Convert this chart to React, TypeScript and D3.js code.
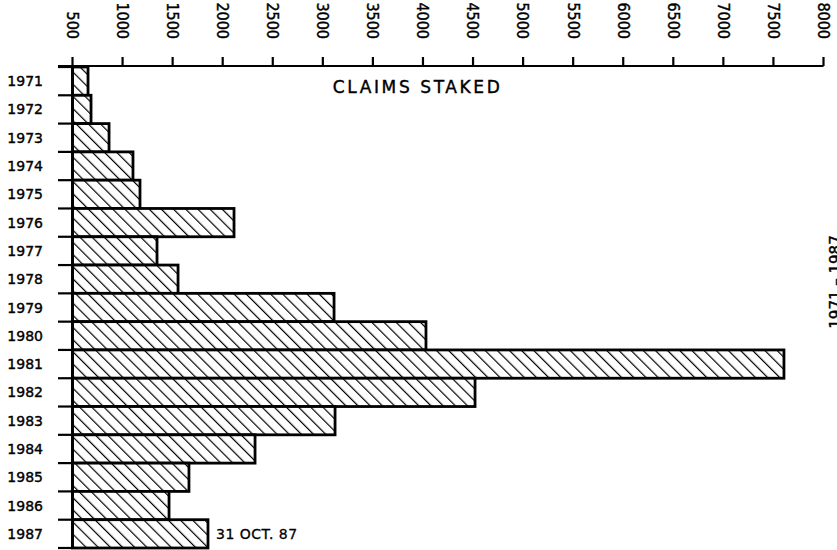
import React from 'react';
import * as d3 from 'd3';

const years = ['1971','1972','1973','1974','1975','1976','1977','1978','1979','1980','1981','1982','1983','1984','1985','1986','1987'];
const claims = [655, 685, 865, 1104, 1174, 2113, 1344, 1554, 3112, 4030, 7605, 4520, 3122, 2323, 1663, 1464, 1853];
const xTicks = [500,1000,1500,2000,2500,3000,3500,4000,4500,5000,5500,6000,6500,7000,7500,8000];
const title = 'CLAIMS STAKED';
const note = '31 OCT. 87';
const sideText = '1971 – 1987';

const W = 837, H = 550;
const FONT = '"DejaVu Sans", sans-serif';
const NARROW = '"Liberation Sans Narrow", "DejaVu Sans Condensed", sans-serif';

export default function App() {
  const x = d3.scaleLinear().domain([500, 8000]).range([72.5, 823.5]);
  const y = d3.scaleBand().domain(years).range([67, 548]).padding(0);
  const axisY = 66;
  const boundaries = years.map(yr => y(yr)!).concat([y.range()[1]]);
  const last = years[years.length - 1];
  const lastVal = claims[claims.length - 1];

  return (
    <svg width={W} height={H} style={{ position: 'absolute', left: 0, top: 0, background: '#fff' }}>
      <defs>
        <pattern id="hatch" patternUnits="userSpaceOnUse" width="8.6" height="8.6" patternTransform="rotate(-45)">
          <rect width="8.6" height="8.6" fill="#fff" />
          <line x1="0" y1="0" x2="0" y2="8.6" stroke="#000" strokeWidth="2.4" />
        </pattern>
      </defs>
      {/* bars */}
      {years.map((yr, i) => (
        <rect key={yr} x={x(500)} y={y(yr)!} width={x(claims[i]) - x(500)} height={y.bandwidth()}
          fill="url(#hatch)" stroke="#000" strokeWidth={2.8} />
      ))}
      {/* left ticks */}
      {boundaries.map((b, i) => (
        <line key={i} x1={58} x2={x(500)} y1={b} y2={b} stroke="#000" strokeWidth={2.2} />
      ))}
      <line x1={x(500)} x2={x(500)} y1={axisY} y2={y.range()[1]} stroke="#000" strokeWidth={2.8} />
      {/* top axis */}
      <line x1={58} x2={x(8000)} y1={axisY} y2={axisY} stroke="#000" strokeWidth={2.2} />
      {xTicks.map(t => (
        <g key={t}>
          <line x1={x(t)} x2={x(t)} y1={axisY} y2={axisY - 9} stroke="#000" strokeWidth={2.2} />
          <text transform={`translate(${x(t)},39) rotate(90)`} textAnchor="end" dy="0.35em"
            fontFamily={NARROW} fontSize={16} fill="#000" stroke="#000" strokeWidth={0.4}>{t}</text>
        </g>
      ))}
      {/* year labels */}
      {years.map(yr => (
        <text key={yr} x={43} y={y(yr)! + y.bandwidth() / 2} dy="0.36em" textAnchor="end"
          fontFamily={FONT} fontSize={14} fill="#000" stroke="#000" strokeWidth={0.4}>{yr}</text>
      ))}
      <text x={x(3100)} y={93} fontFamily={FONT} fontSize={17} letterSpacing={2.6} fill="#000"
        stroke="#000" strokeWidth={0.4}>{title}</text>
      <text x={x(lastVal) + 8} y={y(last)! + y.bandwidth() / 2} dy="0.36em" letterSpacing={0.5}
        fontFamily={FONT} fontSize={14} fill="#000" stroke="#000" strokeWidth={0.3}>{note}</text>
      <text transform={`translate(841,282) rotate(-90)`} textAnchor="middle"
        fontFamily={FONT} fontSize={15} fill="#000" stroke="#000" strokeWidth={0.4}>{sideText}</text>
    </svg>
  );
}
